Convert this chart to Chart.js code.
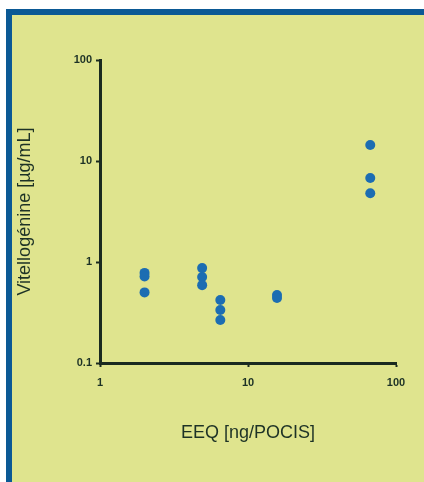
<!DOCTYPE html>
<html>
<head>
<meta charset="utf-8">
<script src="https://cdn.jsdelivr.net/npm/chart.js@4.4.1/dist/chart.umd.min.js"></script>
<style>
html,body{margin:0;padding:0;background:#fff;}
#cadre{position:absolute;left:6px;top:9px;width:418px;height:473px;background:#dfe48e;
  border-top:6px solid #0b5995;border-left:6px solid #0b5995;box-sizing:border-box;}
#graph{position:absolute;left:0;top:0;}
</style>
</head>
<body>
<div id="cadre"></div>
<canvas id="graph" width="424" height="482"></canvas>
<script>
//valeurs
const eeq_x = [2.0, 2.0, 2.0, 4.9, 4.9, 4.9, 6.5, 6.5, 6.5, 15.7, 15.7, 67, 67, 67];
const vtg_y = [0.78, 0.72, 0.50, 0.87, 0.71, 0.59, 0.42, 0.335, 0.267, 0.47, 0.44, 14.4, 6.8, 4.8];
const x_ticks = [1, 10, 100];
const y_ticks = [0.1, 1, 10, 100];

const couleur_texte = '#1d3226';
const couleur_axe = '#1a2a20';

let points = eeq_x.map((x, i) => ({x: x, y: vtg_y[i]}));

new Chart(document.getElementById('graph'), {
    type: 'scatter',
    data: {
        datasets: [{
            data: points,
            pointRadius: 5,
            pointBackgroundColor: '#1c6db2',
            pointBorderWidth: 0
        }]
    },
    options: {
        responsive: false,
        animation: false,
        layout: {padding: {left: 0, top: 60, right: 28, bottom: 0}},
        plugins: {legend: {display: false}, tooltip: {enabled: false}},
        scales: {
            x: {
                type: 'logarithmic',
                min: 1,
                max: 100,
                afterBuildTicks: s => { s.ticks = x_ticks.map(v => ({value: v})); },
                afterFit: s => { s.height = 119; },
                grid: {display: true, color: 'rgba(0,0,0,0)', drawTicks: true, tickLength: 4, tickColor: couleur_axe, tickWidth: 2},
                border: {display: true, color: couleur_axe, width: 3},
                ticks: {color: couleur_texte, padding: 9, font: {family: 'Liberation Sans', size: 11, weight: 'bold'},
                    callback: v => String(v), maxRotation: 0},
                title: {display: true, text: 'EEQ [ng/POCIS]', color: couleur_texte,
                    font: {family: 'Liberation Sans', size: 18}, padding: {top: 0, bottom: 38}}
            },
            y: {
                type: 'logarithmic',
                min: 0.1,
                max: 100,
                afterBuildTicks: s => { s.ticks = y_ticks.map(v => ({value: v})); },
                afterFit: s => { s.width = 100; },
                grid: {display: true, color: 'rgba(0,0,0,0)', drawTicks: true, tickLength: 4, tickColor: couleur_axe, tickWidth: 2},
                border: {display: true, color: couleur_axe, width: 3},
                ticks: {color: couleur_texte, padding: 4, font: {family: 'Liberation Sans', size: 11, weight: 'bold'},
                    callback: v => String(v)},
                title: {display: true, text: 'Vitellogénine [µg/mL]', color: couleur_texte,
                    font: {family: 'Liberation Sans', size: 18}, padding: {top: 14, bottom: 0}}
            }
        }
    }
});
</script>
</body>
</html>
